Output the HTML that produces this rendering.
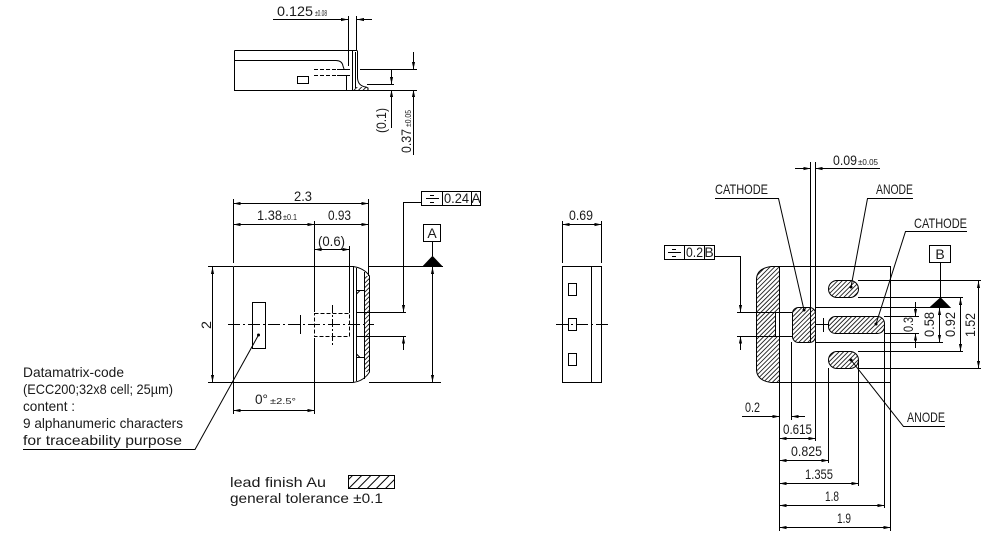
<!DOCTYPE html>
<html><head><meta charset="utf-8"><style>
html,body{margin:0;padding:0;background:#fff}
svg{display:block}
text{font-family:"Liberation Sans",sans-serif;fill:#1a1a1a;stroke:none}
.d{marker-start:url(#ar);marker-end:url(#ar)}
.e{marker-end:url(#ar)}
.c{stroke-dasharray:12 3 2 3}
</style></head><body>
<svg width="1002" height="553" viewBox="0 0 1002 553" xmlns="http://www.w3.org/2000/svg">
<defs>
<marker id="ar" viewBox="0 0 8 4" refX="8" refY="2" markerWidth="7" markerHeight="3.5" orient="auto-start-reverse" markerUnits="userSpaceOnUse"><path d="M0,0.2 L8,2 L0,3.8z" fill="#000"/></marker>
<pattern id="h" width="3.2" height="3.2" patternUnits="userSpaceOnUse" patternTransform="rotate(45)"><line x1="0.5" y1="0" x2="0.5" y2="3.2" stroke="#000" stroke-width="0.8"/></pattern>
<pattern id="h2" width="6.5" height="6.5" patternUnits="userSpaceOnUse" patternTransform="rotate(45)"><line x1="0.5" y1="0" x2="0.5" y2="6.5" stroke="#000" stroke-width="1"/></pattern>
</defs>
<g stroke="#000" stroke-width="1" fill="none">
<!-- ===== TOP SIDE VIEW ===== -->
<line x1="273" y1="19.5" x2="348" y2="19.5" class="e"/>
<line x1="372" y1="19.5" x2="357" y2="19.5" class="e"/>
<line x1="348.5" y1="16" x2="348.5" y2="66"/>
<line x1="356.5" y1="16" x2="356.5" y2="50"/>
<path d="M234.5,50.5 H357 M234.5,50.5 V90.5 H352"/>
<path d="M234.5,60.5 H336 Q342,60.5 343,66 L344,69"/>
<rect x="297.5" y="76.5" width="11" height="7"/>
<path d="M314,69.5 H337 M314,75.5 H337" stroke-dasharray="4 2"/>
<path d="M337,69.5 H350 M337,75.5 H350 M346.5,75 V90"/>
<path d="M352.5,50.5 V90.5 M355.5,52 V88 M357.5,50.5 V78 Q358,86 366,87 L368,88 V90.5 H352"/>
<path d="M353,87 H366 L368,88 V90 H353z" fill="url(#h)" stroke="none"/>
<line x1="360" y1="69.5" x2="417" y2="69.5"/>
<line x1="367" y1="84.5" x2="394" y2="84.5"/>
<line x1="368" y1="90.5" x2="417" y2="90.5"/>
<line x1="391.5" y1="70" x2="391.5" y2="84" class="e"/>
<line x1="391.5" y1="128" x2="391.5" y2="90" class="e"/>
<line x1="413.5" y1="52" x2="413.5" y2="69" class="e"/>
<line x1="413.5" y1="155" x2="413.5" y2="90" class="e"/>

<!-- ===== FRONT VIEW ===== -->
<path d="M233.5,266.5 H353 M233.5,266.5 V382.5 H353 M353.5,266 V382"/>
<path d="M364.5,276 H369 V372 H364.5z" fill="url(#h)" stroke="none"/>
<path d="M353,266.5 Q364,268 369.5,276 V372 Q364,381 353,382.5"/>
<line x1="356.5" y1="268" x2="356.5" y2="381"/>
<line x1="364.5" y1="272" x2="364.5" y2="379"/>
<rect x="356.5" y="290.5" width="8" height="67"/>
<path d="M356.5,294 L360,290.5 M356.5,354 L360,357.5"/>
<line x1="369" y1="266.5" x2="443" y2="266.5"/>
<line x1="369" y1="382.5" x2="441" y2="382.5"/>
<line x1="432.5" y1="267" x2="432.5" y2="382" class="d"/>
<rect x="423.5" y="224.5" width="17" height="17"/>
<line x1="432.5" y1="242" x2="432.5" y2="256"/>
<path d="M423,266.5 L442,266.5 L432.5,256.5z" fill="#000"/>
<!-- tolerance frame 0.24 A -->
<rect x="421.5" y="191.5" width="59" height="14"/>
<line x1="442.5" y1="191.5" x2="442.5" y2="205.5"/>
<line x1="471.5" y1="191.5" x2="471.5" y2="205.5"/>
<path d="M430,195.5 H434 M426,198.5 H439 M430,202.5 H434"/>
<path d="M421,202.5 H403.5 V312" class="e"/>
<line x1="403.5" y1="350" x2="403.5" y2="336.5" class="e"/>
<line x1="356" y1="312.5" x2="406" y2="312.5"/>
<line x1="356" y1="336.5" x2="406" y2="336.5"/>
<!-- dims -->
<line x1="233.5" y1="203.5" x2="368.5" y2="203.5" class="d"/>
<line x1="233.5" y1="199" x2="233.5" y2="263"/>
<line x1="368.5" y1="199" x2="368.5" y2="276"/>
<line x1="233.5" y1="224.5" x2="314.5" y2="224.5" class="d"/>
<line x1="314.5" y1="224.5" x2="368.5" y2="224.5" class="e"/>
<line x1="314.5" y1="221" x2="314.5" y2="312"/>
<line x1="314.5" y1="338" x2="314.5" y2="414"/>
<line x1="314.5" y1="249.5" x2="349.5" y2="249.5" class="d"/>
<line x1="349.5" y1="246" x2="349.5" y2="313"/>
<rect x="314.5" y="313.5" width="35" height="23" stroke-dasharray="4 2"/>
<line x1="228" y1="324.5" x2="374" y2="324.5" class="c"/>
<line x1="300.5" y1="315" x2="300.5" y2="334"/>
<line x1="332.5" y1="305" x2="332.5" y2="346" stroke-dasharray="8 2 2 2"/>
<rect x="252.5" y="302.5" width="13" height="46"/>
<circle cx="258.5" cy="335" r="1.5" fill="#000" stroke="none"/>
<path d="M258.5,335 L195,449.5 H23"/>
<line x1="212.5" y1="267" x2="212.5" y2="382" class="d"/>
<line x1="208" y1="266.5" x2="233" y2="266.5"/>
<line x1="208" y1="382.5" x2="233" y2="382.5"/>
<line x1="233.5" y1="383" x2="233.5" y2="414"/>
<line x1="233.5" y1="410.5" x2="314.5" y2="410.5" class="d"/>

<!-- ===== SMALL SIDE VIEW ===== -->
<line x1="562.5" y1="224.5" x2="601.5" y2="224.5" class="d"/>
<line x1="562.5" y1="221" x2="562.5" y2="263"/>
<line x1="601.5" y1="221" x2="601.5" y2="263"/>
<rect x="562.5" y="266.5" width="39" height="116"/>
<line x1="591.5" y1="266.5" x2="591.5" y2="382.5"/>
<rect x="568.5" y="283.5" width="8" height="12"/>
<rect x="568.5" y="318.5" width="8" height="12"/>
<rect x="568.5" y="353.5" width="8" height="12"/>
<line x1="556" y1="324.5" x2="608" y2="324.5" class="c"/>

<!-- ===== RIGHT VIEW ===== -->
<path d="M779.5,266.5 L771,266.5 Q757,268.5 756.5,279 V370 Q757,380.5 771,382.5 L779.5,382.5z" fill="url(#h)"/>
<rect x="775.5" y="312.5" width="4" height="24" fill="#fff"/>
<path d="M779.5,266.5 H890.5 M779.5,382.5 H890.5"/>
<line x1="779.5" y1="266" x2="779.5" y2="531"/>
<line x1="890.5" y1="266" x2="890.5" y2="531"/>
<!-- pads -->
<rect x="828.5" y="280.5" width="30" height="17" rx="8.5" fill="url(#h)"/>
<rect x="828.5" y="316.5" width="56" height="17" rx="7" fill="url(#h)"/>
<rect x="828.5" y="351.5" width="30" height="17" rx="8.5" fill="url(#h)"/>
<rect x="792.5" y="307.5" width="23" height="35" rx="6" fill="url(#h)"/>
<!-- ext lines right -->
<line x1="858" y1="280.5" x2="981" y2="280.5"/>
<line x1="858" y1="297.5" x2="963" y2="297.5"/>
<line x1="815" y1="307.5" x2="943" y2="307.5"/>
<line x1="884" y1="316.5" x2="919" y2="316.5"/>
<line x1="884" y1="333.5" x2="919" y2="333.5"/>
<line x1="815" y1="342.5" x2="943" y2="342.5"/>
<line x1="858" y1="351.5" x2="963" y2="351.5"/>
<line x1="858" y1="368.5" x2="981" y2="368.5"/>
<line x1="915.5" y1="302" x2="915.5" y2="316" class="e"/>
<line x1="915.5" y1="348" x2="915.5" y2="333.5" class="e"/>
<line x1="939.5" y1="308" x2="939.5" y2="342" class="d"/>
<line x1="960.5" y1="298" x2="960.5" y2="351" class="d"/>
<line x1="978.5" y1="281" x2="978.5" y2="368" class="d"/>
<rect x="929.5" y="245.5" width="21" height="17"/>
<line x1="940.5" y1="262.5" x2="940.5" y2="298"/>
<path d="M930,307.5 L950,307.5 L940.5,298z" fill="#000"/>
<!-- 0.09 -->
<line x1="795" y1="168.5" x2="810.5" y2="168.5" class="e"/>
<line x1="880" y1="168.5" x2="815.5" y2="168.5" class="e"/>
<line x1="810.5" y1="162" x2="810.5" y2="342"/>
<line x1="815.5" y1="162" x2="815.5" y2="441"/>
<!-- tolerance frame 0.2 B -->
<rect x="664.5" y="245.5" width="50" height="14"/>
<line x1="684.5" y1="245.5" x2="684.5" y2="259.5"/>
<line x1="704.5" y1="245.5" x2="704.5" y2="259.5"/>
<path d="M672,249.5 H676 M668,252.5 H681 M672,256.5 H676"/>
<path d="M715,256.5 H740.5 V312" class="e"/>
<line x1="740.5" y1="350" x2="740.5" y2="336.5" class="e"/>
<line x1="737" y1="312.5" x2="792" y2="312.5"/>
<line x1="737" y1="336.5" x2="792" y2="336.5"/>
<line x1="823.5" y1="318" x2="823.5" y2="332"/>
<line x1="816" y1="324.5" x2="828" y2="324.5"/>
<!-- leaders -->
<path d="M715,198.5 H778.5 L804,310"/>
<circle cx="804" cy="310" r="1.5" fill="#000" stroke="none"/>
<path d="M913,198.5 H867.5 L851,287"/>
<circle cx="851" cy="287" r="1.5" fill="#000" stroke="none"/>
<path d="M967,231.5 H905.5 L876,324"/>
<circle cx="876" cy="324" r="1.5" fill="#000" stroke="none"/>
<path d="M945,426.5 H903.5 L851,360"/>
<circle cx="851" cy="360" r="1.5" fill="#000" stroke="none"/>
<!-- bottom dims -->
<line x1="742" y1="416.5" x2="779.5" y2="416.5" class="e"/>
<line x1="805" y1="416.5" x2="791.5" y2="416.5" class="e"/>
<line x1="791.5" y1="342" x2="791.5" y2="420"/>
<line x1="779.5" y1="438.5" x2="815.5" y2="438.5" class="d"/>
<line x1="828.5" y1="368" x2="828.5" y2="463"/>
<line x1="779.5" y1="460.5" x2="828.5" y2="460.5" class="d"/>
<line x1="858.5" y1="360" x2="858.5" y2="486"/>
<line x1="779.5" y1="483.5" x2="858.5" y2="483.5" class="d"/>
<line x1="884.5" y1="325" x2="884.5" y2="508"/>
<line x1="779.5" y1="505.5" x2="884.5" y2="505.5" class="d"/>
<line x1="779.5" y1="527.5" x2="890.5" y2="527.5" class="d"/>

<!-- legend -->
<rect x="348.5" y="475.5" width="46" height="13" fill="url(#h2)"/>
</g>

<!-- ===== TEXT ===== -->
<g font-size="14">
<text x="277" y="16" textLength="36" lengthAdjust="spacingAndGlyphs">0.125</text>
<text x="315" y="16" font-size="8" textLength="12" lengthAdjust="spacingAndGlyphs">±0.08</text>
<g transform="translate(386,133) rotate(-90)"><text x="0" y="0" textLength="25" lengthAdjust="spacingAndGlyphs">(0.1)</text></g>
<g transform="translate(411,153) rotate(-90)"><text x="0" y="0" textLength="24" lengthAdjust="spacingAndGlyphs">0.37</text><text x="26" y="0" font-size="8" textLength="17" lengthAdjust="spacingAndGlyphs">±0.05</text></g>

<text x="294" y="201" textLength="18" lengthAdjust="spacingAndGlyphs">2.3</text>
<text x="257" y="220" textLength="25" lengthAdjust="spacingAndGlyphs">1.38</text>
<text x="283" y="220" font-size="8" textLength="14" lengthAdjust="spacingAndGlyphs">±0.1</text>
<text x="328" y="220" textLength="23" lengthAdjust="spacingAndGlyphs">0.93</text>
<text x="318" y="246" textLength="27" lengthAdjust="spacingAndGlyphs">(0.6)</text>
<text x="255" y="404" textLength="13" lengthAdjust="spacingAndGlyphs">0°</text>
<text x="270" y="404" font-size="8" textLength="26" lengthAdjust="spacingAndGlyphs">±2.5°</text>
<g transform="translate(211,329) rotate(-90)"><text x="0" y="0" textLength="8" lengthAdjust="spacingAndGlyphs">2</text></g>
<text x="432" y="238" text-anchor="middle">A</text>
<text x="444" y="203" textLength="25" lengthAdjust="spacingAndGlyphs">0.24</text>
<text x="476" y="203" text-anchor="middle">A</text>

<text x="569" y="220" textLength="24" lengthAdjust="spacingAndGlyphs">0.69</text>

<text x="833" y="165" textLength="24" lengthAdjust="spacingAndGlyphs">0.09</text>
<text x="858" y="165" font-size="8" textLength="20" lengthAdjust="spacingAndGlyphs">±0.05</text>
<text x="715" y="194" textLength="53" lengthAdjust="spacingAndGlyphs">CATHODE</text>
<text x="876" y="194" textLength="37" lengthAdjust="spacingAndGlyphs">ANODE</text>
<text x="914" y="228" textLength="53" lengthAdjust="spacingAndGlyphs">CATHODE</text>
<text x="907" y="422" textLength="38" lengthAdjust="spacingAndGlyphs">ANODE</text>
<text x="686" y="257" textLength="17" lengthAdjust="spacingAndGlyphs">0.2</text>
<text x="709" y="257" text-anchor="middle">B</text>
<text x="940" y="259" text-anchor="middle">B</text>
<g transform="translate(913,332) rotate(-90)"><text x="0" y="0" textLength="15" lengthAdjust="spacingAndGlyphs">0.3</text></g>
<g transform="translate(934,337) rotate(-90)"><text x="0" y="0" textLength="25" lengthAdjust="spacingAndGlyphs">0.58</text></g>
<g transform="translate(955,337) rotate(-90)"><text x="0" y="0" textLength="25" lengthAdjust="spacingAndGlyphs">0.92</text></g>
<g transform="translate(975,337) rotate(-90)"><text x="0" y="0" textLength="24" lengthAdjust="spacingAndGlyphs">1.52</text></g>
<text x="745" y="412" textLength="15" lengthAdjust="spacingAndGlyphs">0.2</text>
<text x="783" y="434" textLength="29" lengthAdjust="spacingAndGlyphs">0.615</text>
<text x="791" y="456" textLength="31" lengthAdjust="spacingAndGlyphs">0.825</text>
<text x="805" y="479" textLength="28" lengthAdjust="spacingAndGlyphs">1.355</text>
<text x="825" y="501" textLength="14" lengthAdjust="spacingAndGlyphs">1.8</text>
<text x="837" y="523" textLength="14" lengthAdjust="spacingAndGlyphs">1.9</text>

<text x="23" y="377" textLength="101" lengthAdjust="spacingAndGlyphs">Datamatrix-code</text>
<text x="23" y="394" textLength="150" lengthAdjust="spacingAndGlyphs">(ECC200;32x8 cell; 25µm)</text>
<text x="23" y="411" textLength="52" lengthAdjust="spacingAndGlyphs">content :</text>
<text x="23" y="428" textLength="160" lengthAdjust="spacingAndGlyphs">9 alphanumeric characters</text>
<text x="23" y="445" textLength="159" lengthAdjust="spacingAndGlyphs">for traceability purpose</text>
<text x="230" y="487" textLength="96" lengthAdjust="spacingAndGlyphs">lead finish Au</text>
<text x="230" y="503" textLength="153" lengthAdjust="spacingAndGlyphs">general tolerance ±0.1</text>
</g>
</svg>
</body></html>
